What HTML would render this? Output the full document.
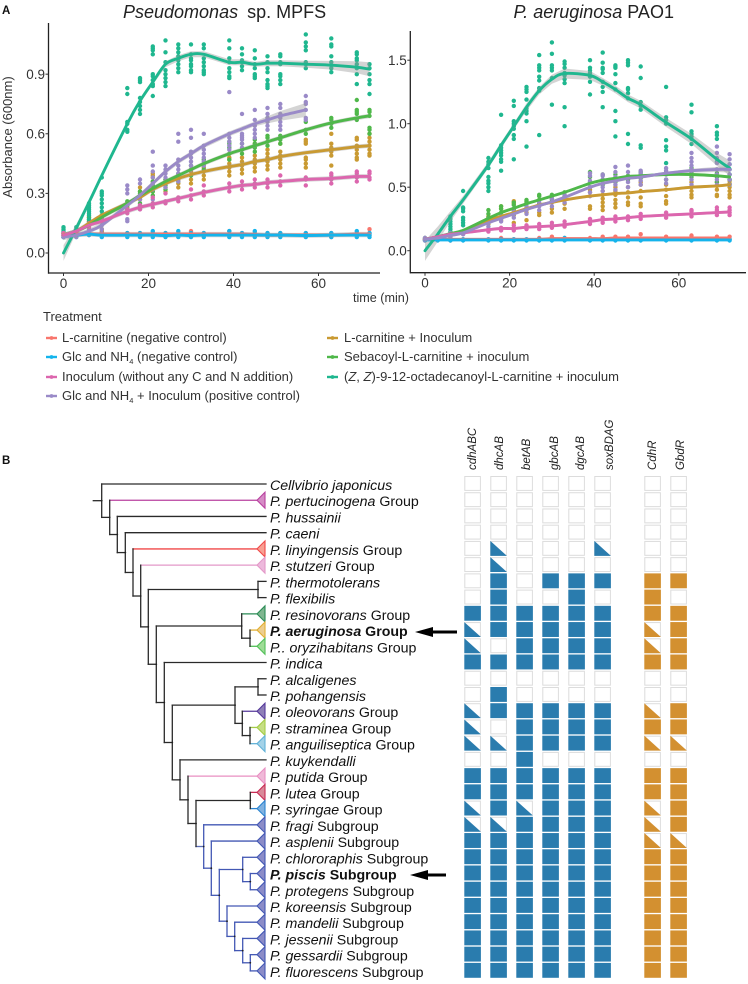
<!DOCTYPE html>
<html lang="en">
<head>
<meta charset="utf-8">
<title>Growth curves and phylogeny of Pseudomonas</title>
<style>
html,body{margin:0;padding:0;background:#fff;width:748px;height:984px;overflow:hidden}
svg{display:block;font-family:"Liberation Sans",sans-serif}
.tick{font-size:13.5px;fill:#333}
.sp{font-size:14.2px;fill:#111}
.sp tspan.i{font-style:italic}
.leg{font-size:13px;fill:#333}
.gene{font-size:11.5px;font-style:italic;fill:#222}
</style>
</head>
<body>
<svg id="fig" width="748" height="984" viewBox="0 0 748 984" xmlns="http://www.w3.org/2000/svg">
  <text x="2" y="14" font-size="11.5" font-weight="bold" fill="#111">A</text>
  <text x="2" y="464" font-size="11.5" font-weight="bold" fill="#111">B</text>

  <text x="123" y="18" font-size="18" fill="#222"><tspan font-style="italic">Pseudomonas</tspan>  <tspan dx="4">sp. MPFS</tspan></text>
  <text x="513.5" y="18" font-size="18" fill="#222"><tspan font-style="italic">P. aeruginosa</tspan> PAO1</text>
  <text transform="translate(12,137) rotate(-90)" text-anchor="middle" font-size="13" fill="#333">Absorbance (600nm)</text>
  <text x="353" y="302" font-size="12.6" fill="#333">time (min)</text>

  <g id="leftPanel"></g>
  <g id="rightPanel"></g>

  <g>
    <text x="43" y="321" class="leg">Treatment</text>
    <g id="legendKeys"></g>
    <text x="62" y="342" class="leg">L-carnitine (negative control)</text>
    <text x="62" y="361" class="leg">Glc and NH<tspan font-size="7.5" dy="3">4</tspan><tspan dy="-3"> (negative control)</tspan></text>
    <text x="62" y="381" class="leg">Inoculum (without any C and N addition)</text>
    <text x="62" y="400" class="leg">Glc and NH<tspan font-size="7.5" dy="3">4</tspan><tspan dy="-3"> + Inoculum (positive control)</tspan></text>
    <text x="344" y="342" class="leg">L-carnitine + Inoculum</text>
    <text x="344" y="361" class="leg">Sebacoyl-L-carnitine + inoculum</text>
    <text x="344" y="381" class="leg">(<tspan font-style="italic">Z</tspan>, <tspan font-style="italic">Z</tspan>)-9-12-octadecanoyl-L-carnitine + inoculum</text>
  </g>

  <g id="tree"></g>

  <g>
    <text class="sp" x="270" y="490"><tspan class="i">Cellvibrio japonicus</tspan></text>
    <text class="sp" x="270" y="506"><tspan class="i">P. pertucinogena</tspan> Group</text>
    <text class="sp" x="270" y="522.5"><tspan class="i">P. hussainii</tspan></text>
    <text class="sp" x="270" y="538.7"><tspan class="i">P. caeni</tspan></text>
    <text class="sp" x="270" y="555"><tspan class="i">P. linyingensis</tspan> Group</text>
    <text class="sp" x="270" y="571"><tspan class="i">P. stutzeri</tspan> Group</text>
    <text class="sp" x="270" y="587.4"><tspan class="i">P. thermotolerans</tspan></text>
    <text class="sp" x="270" y="603.6"><tspan class="i">P. flexibilis</tspan></text>
    <text class="sp" x="270" y="619.8"><tspan class="i">P. resinovorans</tspan> Group</text>
    <text class="sp" x="270" y="636" font-weight="bold"><tspan class="i">P. aeruginosa</tspan> Group</text>
    <text class="sp" x="270" y="652.3"><tspan class="i">P.. oryzihabitans</tspan> Group</text>
    <text class="sp" x="270" y="668.5"><tspan class="i">P. indica</tspan></text>
    <text class="sp" x="270" y="684.8"><tspan class="i">P. alcaligenes</tspan></text>
    <text class="sp" x="270" y="701"><tspan class="i">P. pohangensis</tspan></text>
    <text class="sp" x="270" y="717.2"><tspan class="i">P. oleovorans</tspan> Group</text>
    <text class="sp" x="270" y="733.5"><tspan class="i">P. straminea</tspan> Group</text>
    <text class="sp" x="270" y="749.7"><tspan class="i">P. anguiliseptica</tspan> Group</text>
    <text class="sp" x="270" y="766"><tspan class="i">P. kuykendalli</tspan></text>
    <text class="sp" x="270" y="782.2"><tspan class="i">P. putida</tspan> Group</text>
    <text class="sp" x="270" y="798.4"><tspan class="i">P. lutea</tspan> Group</text>
    <text class="sp" x="270" y="814.6"><tspan class="i">P. syringae</tspan> Group</text>
    <text class="sp" x="270" y="830.8"><tspan class="i">P. fragi</tspan> Subgroup</text>
    <text class="sp" x="270" y="847"><tspan class="i">P. asplenii</tspan> Subgroup</text>
    <text class="sp" x="270" y="863.3"><tspan class="i">P. chlororaphis</tspan> Subgroup</text>
    <text class="sp" x="270" y="879.5" font-weight="bold"><tspan class="i">P. piscis</tspan> Subgroup</text>
    <text class="sp" x="270" y="895.8"><tspan class="i">P. protegens</tspan> Subgroup</text>
    <text class="sp" x="270" y="912"><tspan class="i">P. koreensis</tspan> Subgroup</text>
    <text class="sp" x="270" y="928.2"><tspan class="i">P. mandelii</tspan> Subgroup</text>
    <text class="sp" x="270" y="944.4"><tspan class="i">P. jessenii</tspan> Subgroup</text>
    <text class="sp" x="270" y="960.6"><tspan class="i">P. gessardii</tspan> Subgroup</text>
    <text class="sp" x="270" y="976.8"><tspan class="i">P. fluorescens</tspan> Subgroup</text>
  </g>

  <g>
    <line x1="430" y1="632" x2="457" y2="632" stroke="#000" stroke-width="3"/>
    <polygon points="415,632 433,627 433,637" fill="#000"/>
  </g>
  <g>
    <line x1="425" y1="875" x2="446" y2="875" stroke="#000" stroke-width="3"/>
    <polygon points="410,875 428,870 428,880" fill="#000"/>
  </g>

  <g>
    <text class="gene" transform="translate(476,470) rotate(-90)">cdhABC</text>
    <text class="gene" transform="translate(503,470) rotate(-90)">dhcAB</text>
    <text class="gene" transform="translate(530,470) rotate(-90)">betAB</text>
    <text class="gene" transform="translate(558,470) rotate(-90)">gbcAB</text>
    <text class="gene" transform="translate(584,470) rotate(-90)">dgcAB</text>
    <text class="gene" transform="translate(613,470) rotate(-90)">soxBDAG</text>
    <text class="gene" transform="translate(656,470) rotate(-90)">CdhR</text>
    <text class="gene" transform="translate(684,470) rotate(-90)">GbdR</text>
  </g>
  <g id="heat"></g>
</svg>

<script>
/* ---------- growth chart data ---------- */
const times = [0,3,6,9,15,18,21,24,27,30,33,39,42,45,48,51,57,63,69,72];
const xTicks = [0,20,40,60];
const leftYTicks = ['0.0','0.3','0.6','0.9'];
const rightYTicks = ['0.0','0.5','1.0','1.5'];

const colorRed = '#f8766d', colorBlue = '#14b4ec', colorPink = '#dc66ae',
      colorPurple = '#9a8ac8', colorGold = '#c99a32', colorGreen = '#4fb84a', colorTeal = '#1fb78f';

/* left panel: smoothed curves */
const leftRedLine = [.095,.095,.095,.095,.095,.095,.095,.095,.095,.095,.095,.095,.095,.093,.09,.09,.09,.09,.095,.095];
const leftBlueLine = [.09,.09,.095,.09,.09,.09,.09,.088,.09,.088,.09,.09,.09,.09,.09,.09,.088,.09,.09,.09];
const leftGoldLine = [.09,.11,.15,.19,.25,.28,.32,.35,.375,.395,.41,.435,.445,.46,.47,.485,.505,.52,.535,.54];
const leftGreenLine = [.09,.11,.14,.18,.25,.29,.325,.36,.39,.42,.45,.50,.52,.54,.56,.58,.62,.655,.68,.69];
const leftTealLine = [0,.125,.255,.39,.65,.765,.86,.95,.98,1.0,1.0,.96,.96,.95,.955,.955,.95,.945,.935,.925];
const leftPurpleLine = [.08,.09,.11,.14,.24,.29,.35,.41,.46,.50,.54,.60,.625,.65,.67,.69,.72];
const leftPinkLine = [.09,.11,.14,.16,.21,.23,.245,.26,.275,.29,.305,.33,.34,.345,.355,.36,.37,.375,.385,.385];
const leftTealBand = [.04,.02,.015,.012,.012,.012,.012,.015,.015,.015,.015,.015,.015,.012,.015,.015,.018,.022,.03,.035];
const leftPurpleBand = [.015,.012,.012,.012,.012,.012,.012,.012,.012,.012,.012,.012,.012,.012,.018,.024,.035];

/* left panel: replicates per time */
const leftRedPts = [[.09,.10],[.09,.10],[.09,.10],[.09,.10],[.09,.10],[.09,.10],[.09,.10],[.09,.10],[.09,.10],[.09,.11],[.09,.10],[.09,.11],[.09,.10],[.09,.10],[.085,.10],[.085,.10],[.085,.10],[.08,.10],[.09,.10],[.09,.10,.12]];
const leftBluePts = [[.08,.09,.10],[.08,.09,.10],[.09,.10],[.08,.09],[.08,.09,.10],[.08,.09,.10],[.08,.09,.11],[.08,.09,.10],[.08,.09,.11],[.08,.09,.10],[.08,.09,.10],[.08,.09,.11],[.08,.09,.10],[.08,.09,.11],[.08,.09,.10],[.08,.09,.10],[.08,.09,.10],[.08,.09,.10],[.08,.09,.11],[.08,.09,.10]];
const leftPinkPts = [[.09,.10],[.10,.12],[.13,.15],[.16,.17],[.20,.22],[.22,.24],[.23,.25,.28],[.25,.26,.30],[.26,.28],[.27,.29,.32],[.29,.31,.34],[.31,.33,.35],[.32,.34,.36],[.33,.35,.37],[.33,.35,.37],[.34,.36,.39],[.34,.37,.38],[.35,.37,.39,.40],[.36,.38,.40,.41],[.37,.38,.40,.41]];
const leftPurplePts = [[.08,.09,.10],[.08,.09,.10],[.10,.11,.12],[.10,.12,.14],[.16,.17,.22,.30,.32,.34],[.22,.24,.27,.29,.35,.37],[.27,.32,.35,.38,.41,.44,.51],[.33,.36,.38,.40,.42,.44],[.36,.38,.40,.42,.44,.47,.56,.60],[.42,.44,.46,.48,.50,.51,.58,.62],[.44,.46,.48,.50,.52,.54,.60],[.52,.54,.56,.58,.60,.81],[.53,.55,.57,.58,.59,.60,.70],[.58,.60,.62,.64,.67,.72],[.62,.64,.66,.68,.70,.73],[.62,.64,.66,.68,.70,.73,.75],[.67,.68,.72,.75,.76,.79]];
const leftGoldPts = [[.09,.10],[.09,.11],[.15,.16,.17,.18],[.10,.11,.12,.17,.19],[.23,.25],[.27,.29,.31,.33],[.31,.33,.36,.38,.39,.40],[.31,.33,.35,.37],[.33,.35,.37,.39],[.35,.37,.39,.41,.42],[.37,.39,.41,.43],[.39,.41,.43,.45,.47,.48],[.40,.42,.44,.46,.48],[.41,.43,.45,.47,.49,.55],[.42,.44,.46,.48,.50,.52],[.43,.45,.47,.49,.51,.55],[.43,.45,.47,.48,.55,.56,.57],[.44,.49,.51,.53,.55,.60],[.47,.48,.50,.52,.54,.57,.58],[.49,.50,.52,.54,.56,.58,.60]];
const leftGreenPts = [[.08,.10],[.09,.11],[.14,.16,.18],[.16,.18,.19],[.22,.24,.26],[.25,.28,.30,.31],[.29,.31,.34,.36],[.32,.34,.37],[.36,.38,.40],[.39,.42,.44],[.42,.45,.47],[.47,.50,.53,.55,.56],[.50,.52,.55],[.51,.53,.55,.57],[.54,.56,.58,.59,.68],[.55,.57,.59],[.60,.62,.66],[.63,.65,.67,.68],[.67,.70,.71,.72,.77],[.60,.62,.63,.69,.71,.72]];
const leftTealPts = [[.08,.09,.10,.11,.12,.13],[.09,.10,.11,.13],[.15,.17,.19,.20,.21,.22,.23,.24,.25],[.18,.21,.23,.25,.27,.29,.30,.31,.38],[.61,.62,.65,.66,.80,.83],[.70,.72,.74,.76,.78,.86,.87,.88],[.79,.84,.85,.87,.89,.90,1.00,1.02,1.03,1.04],[.84,.86,.88,.90,.92,.96,1.01,1.07],[.91,.93,.95,.97,.99,1.01,1.03,1.05],[.91,.92,.94,.95,.97,.98,1.0,1.05],[.90,.91,.92,.94,.96,.98,1.03,1.05],[.88,.89,.91,.93,.96,.98,1.03,1.07],[.92,.94,.96,.97,1.0,1.03],[.88,.89,.90,.93,.95,.98,1.02],[.83,.84,.85,.87,.91,.93,.96,.99],[.85,.87,.89,.90,.95,.96,.99,1.0],[.93,.95,.96,1.02,1.04,1.06,1.10],[.91,.93,.96,.99,1.04,1.05,1.08],[.85,.90,.93,.95,.97,.98,1.0,1.01],[.80,.85,.87,.90,.93,.95]];

/* right panel: smoothed curves */
const rightRedLine = [.09,.09,.09,.09,.09,.09,.09,.09,.09,.095,.095,.095,.095,.10,.10,.10,.10,.10,.10,.10];
const rightBlueLine = [.085,.085,.085,.085,.085,.085,.085,.085,.085,.085,.085,.085,.085,.085,.085,.085,.085,.085,.085,.085];
const rightGoldLine = [.09,.10,.13,.15,.24,.27,.30,.33,.36,.38,.40,.43,.44,.45,.455,.465,.48,.50,.51,.52];
const rightGreenLine = [.09,.11,.135,.16,.255,.30,.335,.37,.40,.43,.46,.53,.555,.57,.585,.59,.60,.60,.59,.58];
const rightTealLine = [0,.13,.27,.40,.675,.83,.98,1.13,1.26,1.35,1.395,1.38,1.33,1.27,1.20,1.15,1.01,.88,.72,.65];
const rightPurpleLine = [.09,.10,.12,.14,.22,.255,.29,.325,.355,.385,.42,.50,.53,.55,.57,.58,.61,.63,.64,.64];
const rightPinkLine = [.09,.11,.13,.14,.165,.175,.175,.185,.19,.195,.205,.23,.245,.25,.26,.27,.28,.29,.30,.305];
const rightTealBand = [.08,.06,.04,.03,.025,.025,.025,.03,.03,.035,.04,.035,.03,.03,.03,.03,.035,.04,.05,.06];
const rightPurpleBand = [.015,.012,.012,.012,.012,.012,.012,.012,.012,.012,.012,.012,.012,.012,.012,.012,.012,.015,.02,.025];

/* right panel: replicates per time */
const rightRedPts = [[.09,.10],[.09],[.08,.10],[.09],[.09],[.09,.10],[.09],[.09],[.09,.10],[.09,.11],[.09,.10],[.09,.10],[.09,.11],[.09,.11],[.09,.11],[.09,.13],[.09,.11],[.09,.12],[.09,.11],[.09,.11]];
const rightBluePts = [[.08,.09],[.08],[.08,.09],[.08,.09],[.08,.09],[.08,.09],[.08,.09],[.08,.09],[.08,.09],[.08,.09],[.08,.10],[.08,.09],[.08,.09],[.08,.09],[.08,.09],[.08,.09],[.08,.09],[.08,.09],[.08,.09],[.08,.09]];
const rightPinkPts = [[.09],[.10],[.13],[.13,.15],[.15,.17],[.16,.18],[.16,.18,.20],[.17,.19,.20],[.17,.19,.21],[.18,.20,.22],[.19,.21,.23],[.21,.23,.25],[.22,.24,.26],[.23,.25,.27],[.24,.26,.27],[.25,.27,.29],[.26,.28,.30],[.27,.29,.31,.32],[.28,.30,.32,.34],[.28,.30,.32,.34]];
const rightPurplePts = [[.08,.10],[.09],[.10,.12,.14],[.13,.15],[.19,.22,.25],[.23,.25,.27],[.26,.29,.31],[.29,.32,.35],[.32,.35,.38],[.35,.38,.41],[.38,.41,.44],[.43,.46,.50,.55,.59,.61],[.47,.50,.53,.56,.59,.60],[.48,.52,.55,.58,.62,.66],[.50,.54,.58,.62,.67],[.52,.55,.58,.61,.63],[.53,.56,.60,.63,.65],[.52,.56,.60,.64,.67,.70,.73,.77],[.52,.56,.60,.64,.69,.73,.77,.82],[.52,.56,.60,.64,.68,.72,.76]];
const rightGoldPts = [[.09],[.10],[.11,.13],[.14],[.21,.24,.27],[.24,.27,.33,.35],[.22,.28,.32,.37,.39],[.24,.30,.34,.38],[.28,.30,.36,.40],[.30,.33,.38,.41],[.33,.37,.41],[.33,.35,.43,.46,.48],[.32,.35,.38,.41,.44,.47],[.34,.37,.40,.44,.47,.50],[.36,.38,.42,.46,.50],[.35,.37,.42,.47,.52,.54],[.37,.39,.43,.48,.52],[.42,.44,.47,.50,.54],[.43,.44,.48,.51,.54],[.42,.44,.47,.50,.53,.55]];
const rightGreenPts = [[.09],[.10],[.13],[.15],[.22,.26,.29,.32],[.26,.30,.33,.35],[.29,.33,.36,.38],[.33,.37,.39,.40],[.37,.40,.43,.44],[.40,.43,.44],[.43,.46],[.50,.54,.58,.62],[.52,.56,.60],[.54,.57,.60],[.56,.59],[.57,.60,.62],[.56,.60,.62],[.58,.60,.62,.65],[.54,.58,.61],[.52,.56,.60]];
const rightTealPts = [[.08,.10],[.09],[.12,.15,.17,.19,.21,.23,.25,.27],[.20,.22,.24,.26,.31,.33,.34,.47],[.47,.50,.53,.55,.58,.65,.68,.70,.73],[.63,.70,.72,.75,.77,.79,.81,.83,1.07],[.72,.88,.91,.96,.98,1.00,1.02,1.14,1.18],[.82,1.02,1.08,1.10,1.12,1.19,1.25,1.27,1.29],[.91,1.26,1.28,1.34,1.37,1.42,1.44,1.46,1.54],[1.15,1.36,1.42,1.44,1.46,1.55,1.64],[.98,1.13,1.32,1.35,1.38,1.40,1.44,1.47,1.49],[1.23,1.33,1.37,1.40,1.42,1.44,1.50],[1.13,1.25,1.29,1.33,1.40,1.43,1.44,1.48,1.56],[.90,1.02,1.10,1.27,1.32,1.39,1.44,1.45,1.46],[.84,.92,1.20,1.24,1.27,1.28,1.46,1.48,1.50],[.81,.83,1.11,1.14,1.17,1.36,1.45],[.69,.79,.82,.87,1.00,1.03,1.05,1.29],[.84,.88,.90,.92,.94,1.09,1.15],[.70,.88,.91,.93,.98],[.56,.60,.64,.68]];

/* ---------- matrix data: 0 absent, 1 partial, 2 present ---------- */
const geneRows = [
 [0,0,0,0,0,0,0,0],[0,0,0,0,0,0,0,0],[0,0,0,0,0,0,0,0],[0,0,0,0,0,0,0,0],
 [0,1,0,0,0,1,0,0],[0,1,0,0,0,0,0,0],[0,2,0,2,2,2,2,2],[0,2,0,0,2,0,2,0],
 [2,2,2,2,2,2,2,2],[1,2,2,2,2,2,1,2],[1,0,2,2,2,2,1,2],[2,2,2,2,2,2,2,2],
 [0,0,0,0,0,0,0,0],[0,2,0,0,0,0,0,0],[1,2,2,2,2,2,1,2],[1,0,2,2,2,2,2,2],
 [1,1,2,2,2,2,1,1],[0,0,2,0,0,0,0,0],[2,2,2,2,2,2,2,2],[2,2,2,2,2,2,2,2],
 [1,2,1,2,2,2,1,2],[1,1,2,2,2,2,1,2],[2,2,2,2,2,2,1,1],[2,2,2,2,2,2,2,2],
 [2,2,2,2,2,2,2,2],[2,2,2,2,2,2,2,2],[2,2,2,2,2,2,2,2],[2,2,2,2,2,2,2,2],
 [2,2,2,2,2,2,2,2],[2,2,2,2,2,2,2,2],[2,2,2,2,2,2,2,2]
];
const geneCategories = ['cdhABC','dhcAB','betAB','gbcAB','dgcAB','soxBDAG','CdhR','GbdR'];

const NS = 'http://www.w3.org/2000/svg';
function mk(tag, attrs, parent){
  const el = document.createElementNS(NS, tag);
  for (const k in attrs) el.setAttribute(k, attrs[k]);
  parent.appendChild(el);
  return el;
}
/* smooth curve through the plotted values */
function smoothPath(p){
  let d = 'M' + p[0][0].toFixed(1) + ' ' + p[0][1].toFixed(1);
  for (let i = 0; i < p.length - 1; i++) {
    const a = p[Math.max(i-1,0)], b = p[i], c = p[i+1], e = p[Math.min(i+2,p.length-1)];
    const c1x = b[0] + (c[0]-a[0])/6, c1y = b[1] + (c[1]-a[1])/6;
    const c2x = c[0] - (e[0]-b[0])/6, c2y = c[1] - (e[1]-b[1])/6;
    d += 'C' + [c1x,c1y,c2x,c2y,c[0],c[1]].map(n => n.toFixed(1)).join(' ');
  }
  return d;
}

function drawPanel(host, cfg){
  const sx = t => cfg.x0 + t * cfg.xs;
  const sy = v => cfg.y0 - v * cfg.ys;
  cfg.series.forEach(s => {
    const band = s.band;
    const lineTimes = times.slice(0, s.line.length);
    const hw = i => band ? band[i] : 0.011;
    const up = lineTimes.map((t,i) => sx(t).toFixed(1)+','+sy(s.line[i]+hw(i)).toFixed(1));
    const dn = lineTimes.map((t,i) => sx(t).toFixed(1)+','+sy(s.line[i]-hw(i)).toFixed(1)).reverse();
    s.ribbon = up.concat(dn).join(' ');
    s.path = smoothPath(lineTimes.map((t,i) => [sx(t), sy(s.line[i])]));
  });
  cfg.series.forEach(s => {
    s.pts.forEach((vals,i) => vals.forEach(v => {
      const c = mk('circle', {cx:sx(times[i]).toFixed(1), cy:sy(v).toFixed(1), r:2.2, fill:s.color}, host);
      
      
    }));
  });
  cfg.series.forEach(s => {
    const r = mk('polygon', {points:s.ribbon, fill:'#999', 'fill-opacity':0.42}, host);
    
    
  });
  cfg.series.forEach(s => {
    const l = mk('path', {d:s.path, fill:'none', stroke:s.color, 'stroke-width':2.9, 'stroke-linejoin':'round', 'stroke-linecap':'round'}, host);
    
    
  });
  const yAxis = mk('line', {x1:cfg.ax, y1:cfg.top, x2:cfg.ax, y2:cfg.ay+0.7, stroke:'#222', 'stroke-width':1.3}, host);
  
  
  const xAxis = mk('line', {x1:cfg.ax, y1:cfg.ay, x2:cfg.right, y2:cfg.ay, stroke:'#222', 'stroke-width':1.3}, host);
  
  
  xTicks.forEach(t => {
    mk('line', {x1:sx(t), y1:cfg.ay, x2:sx(t), y2:cfg.ay+3, stroke:'#333', 'stroke-width':1}, host);
    const lb = mk('text', {x:sx(t), y:cfg.ay+15, 'text-anchor':'middle', class:'tick'}, host);
    lb.textContent = t;
    
    
  });
  cfg.yLabels.forEach(txt => {
    const v = parseFloat(txt);
    mk('line', {x1:cfg.ax-3, y1:sy(v), x2:cfg.ax, y2:sy(v), stroke:'#333', 'stroke-width':1}, host);
    const lb = mk('text', {x:cfg.ax-3.5, y:sy(v)+4.7, 'text-anchor':'end', class:'tick'}, host);
    lb.textContent = txt;
    
    
  });
}

drawPanel(document.getElementById('leftPanel'), {
  x0:63.5, xs:4.25, y0:253, ys:198.7, ax:48.5, ay:273, top:23, right:380, yLabels:leftYTicks,
  series:[
    {key:'l-carnitine', color:colorRed, line:leftRedLine, pts:leftRedPts},
    {key:'glc-nh4', color:colorBlue, line:leftBlueLine, pts:leftBluePts},
    {key:'l-carnitine-inoculum', color:colorGold, line:leftGoldLine, pts:leftGoldPts},
    {key:'sebacoyl', color:colorGreen, line:leftGreenLine, pts:leftGreenPts},
    {key:'octadecanoyl', color:colorTeal, line:leftTealLine, pts:leftTealPts, band:leftTealBand},
    {key:'glc-nh4-inoculum', color:colorPurple, line:leftPurpleLine, pts:leftPurplePts, band:leftPurpleBand},
    {key:'inoculum', color:colorPink, line:leftPinkLine, pts:leftPinkPts}
  ]
});
drawPanel(document.getElementById('rightPanel'), {
  x0:425, xs:4.23, y0:250.7, ys:127, ax:410.3, ay:272.7, top:31, right:746, yLabels:rightYTicks,
  series:[
    {key:'l-carnitine', color:colorRed, line:rightRedLine, pts:rightRedPts},
    {key:'glc-nh4', color:colorBlue, line:rightBlueLine, pts:rightBluePts},
    {key:'l-carnitine-inoculum', color:colorGold, line:rightGoldLine, pts:rightGoldPts},
    {key:'sebacoyl', color:colorGreen, line:rightGreenLine, pts:rightGreenPts},
    {key:'octadecanoyl', color:colorTeal, line:rightTealLine, pts:rightTealPts, band:rightTealBand},
    {key:'inoculum', color:colorPink, line:rightPinkLine, pts:rightPinkPts},
    {key:'glc-nh4-inoculum', color:colorPurple, line:rightPurpleLine, pts:rightPurplePts, band:rightPurpleBand}
  ]
});

/* legend keys */
const legendEntries = [
  [51.5,338,colorRed],[51.5,357,colorBlue],[51.5,377,colorPink],[51.5,396,colorPurple],
  [332.5,338,colorGold],[332.5,357,colorGreen],[332.5,377,colorTeal]
];
const legendHost = document.getElementById('legendKeys');
legendEntries.forEach(e => {
  const k = mk('line', {x1:e[0]-5.5, y1:e[1], x2:e[0]+5.5, y2:e[1], stroke:e[2], 'stroke-width':2.4}, legendHost);
  
  
  mk('circle', {cx:e[0], cy:e[1], r:1.9, fill:e[2]}, legendHost);
});

/* ---------- tree ---------- */
const rowY = r => 484 + 16.23 * r;
const BLK = '#2a2a2a', SUB = '#4358b4';
function tip(row, stroke, fill){ return {row, stroke, fill}; }
function leaf(row){ return {row, stroke:BLK}; }
function subT(row){ return {row, stroke:SUB, fill:'#8b8cc8'}; }

const treeRoot = {x:101.7, stub:93.3, v:BLK, kids:[
  leaf(0),
  {x:109.7, v:BLK, kids:[
    tip(1,'#b8409f','#d68cc6'),
    {x:117.3, v:BLK, kids:[
      leaf(2),
      {x:125.3, v:BLK, kids:[
        leaf(3),
        {x:133, v:BLK, kids:[
          tip(4,'#f04848','#f8a093'),
          {x:140.7, v:BLK, kids:[
            tip(5,'#e398c8','#edb9dc'),
            {x:148.3, v:BLK, kids:[
              {x:258, v:BLK, kids:[leaf(6),leaf(7)]},
              {x:156.3, v:BLK, kids:[
                {x:241.7, v:BLK, kids:[
                  tip(8,'#2a8c55','#7fb690'),
                  {x:250, v:BLK, kids:[tip(9,'#e2b035','#edce90'),tip(10,'#52c058','#9edc96')]}
                ]},
                {x:164.3, v:BLK, kids:[
                  leaf(11),
                  {x:172.3, v:BLK, kids:[
                    {x:235, v:BLK, kids:[
                      {x:258, v:BLK, kids:[leaf(12),leaf(13)]},
                      {x:242.3, v:BLK, kids:[
                        tip(14,'#55389a','#8f80b8'),
                        {x:250, v:BLK, kids:[tip(15,'#a4cc48','#c6de84'),tip(16,'#62b2d8','#a3d2e8')]}
                      ]}
                    ]},
                    {x:180, v:BLK, kids:[
                      leaf(17),
                      {x:188, v:BLK, kids:[
                        tip(18,'#e88fc2','#f0b9d8'),
                        {x:196, v:BLK, kids:[
                          {x:250.3, v:BLK, kids:[tip(19,'#c82c55','#d98a9a'),tip(20,'#2a84d0','#82b2e0')]},
                          {x:203.7, v:SUB, edge:'#5a6cb8', kids:[
                            subT(21),
                            {x:211.3, v:SUB, edge:SUB, kids:[
                              subT(22),
                              {x:219.3, v:SUB, edge:SUB, kids:[
                                {x:242.7, v:SUB, edge:SUB, kids:[
                                  subT(23),
                                  {x:250.3, v:SUB, edge:SUB, kids:[subT(24),subT(25)]}
                                ]},
                                {x:227, v:SUB, edge:SUB, kids:[
                                  subT(26),
                                  {x:234.7, v:SUB, edge:SUB, kids:[
                                    subT(27),
                                    {x:242.7, v:SUB, edge:SUB, kids:[
                                      subT(28),
                                      {x:250.3, v:SUB, edge:SUB, kids:[subT(29),subT(30)]}
                                    ]}
                                  ]}
                                ]}
                              ]}
                            ]}
                          ]}
                        ]}
                      ]}
                    ]}
                  ]}
                ]}
              ]}
            ]}
          ]}
        ]}
      ]}
    ]}
  ]}
]};

const treeHost = document.getElementById('tree');
function nodeY(n){
  if (n.row !== undefined) { n.y = rowY(n.row); return n.y; }
  const ys = n.kids.map(nodeY);
  n.y = (ys[0] + ys[ys.length-1]) / 2;
  return n.y;
}
function seg(x1,y1,x2,y2,color){
  const s = mk('line', {x1, y1, x2, y2, stroke:color, 'stroke-width':1.3, 'stroke-linecap':'square'}, treeHost);
  
  
}
function drawNode(n){
  n.kids.forEach(k => {
    if (k.row !== undefined) {
      const end = k.fill ? 257 : 266;
      seg(n.x, k.y, end, k.y, k.stroke);
      if (k.fill) {
        const t = mk('polygon', {points:'257,'+k.y+' 265,'+(k.y-8)+' 265,'+(k.y+8), fill:k.fill, stroke:k.stroke, 'stroke-width':1.1}, treeHost);
        
        
      }
    } else {
      seg(n.x, k.y, k.x, k.y, k.edge || n.v);
      drawNode(k);
    }
  });
  const ys = n.kids.map(k => k.y);
  seg(n.x, ys[0], n.x, ys[ys.length-1], n.v);
  mk('circle', {cx:n.x, cy:n.y, r:0.9, fill:'#222'}, treeHost);
}
nodeY(treeRoot);
seg(treeRoot.stub, treeRoot.y, treeRoot.x, treeRoot.y, BLK);
drawNode(treeRoot);

/* ---------- matrix ---------- */
const heatHost = document.getElementById('heat');
const heatColX = [464.3,490.3,516.3,542.3,568.3,594.3,644.3,670.3];
geneRows.forEach((row,r) => {
  const y = 476 + 16.23 * r;
  row.forEach((val,c) => {
    const x = heatColX[c], w = 16.6, h = 14.9;
    const col = c >= 6 ? '#d39030' : '#2a7cae';
    const base = mk('rect', {
      x:x+0.5, y:y+0.5, width:w-1, height:h-1,
      fill: val === 2 ? col : '#fff',
      stroke: val === 2 ? col : '#dcdcdc', 'stroke-width':1
    }, heatHost);
    
    
    if (val === 1) {
      const tri = mk('polygon', {points:x+','+y+' '+(x+w)+','+(y+h)+' '+x+','+(y+h), fill:col}, heatHost);
      
      
    }
  });
});
</script>
</body>
</html>
